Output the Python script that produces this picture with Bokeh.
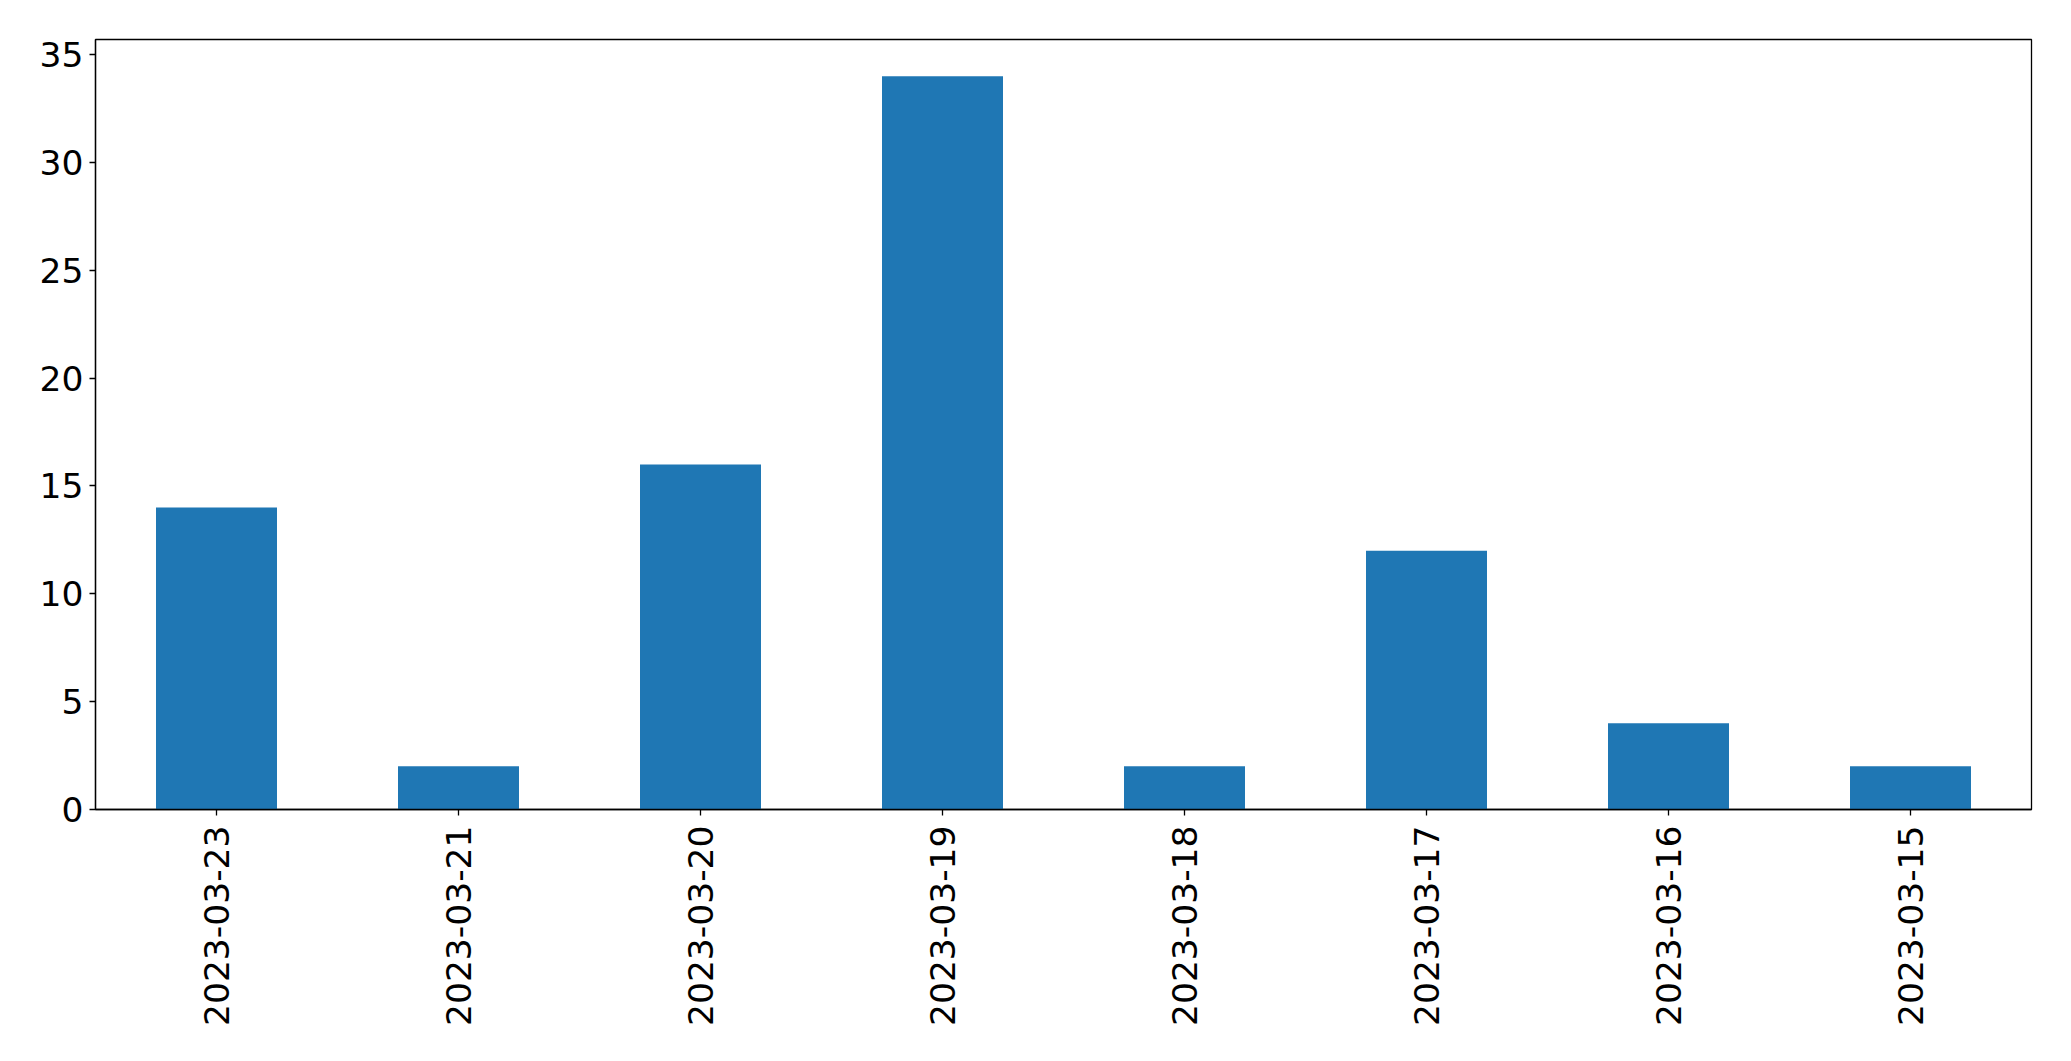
import math
from bokeh.plotting import figure
from bokeh.models import ColumnDataSource, FactorRange, Range1d, FixedTicker
from bokeh.embed import file_html
from bokeh.resources import INLINE

dates = ["2023-03-23", "2023-03-21", "2023-03-20", "2023-03-19",
         "2023-03-18", "2023-03-17", "2023-03-16", "2023-03-15"]
counts = [14, 2, 16, 34, 2, 12, 4, 2]
y_ticks = [0, 5, 10, 15, 20, 25, 30, 35]

source = ColumnDataSource(data=dict(date=dates, count=counts))

p = figure(
    width=2055, height=1045,
    x_range=FactorRange(factors=dates, range_padding=0),
    y_range=Range1d(0, max(counts) * 1.05),
    output_backend="svg", toolbar_location=None,
    min_border_left=95, min_border_right=24, min_border_top=39, min_border_bottom=236,
)

p.vbar(x="date", top="count", width=0.5, source=source,
       fill_color="#1f77b4", line_color=None)

p.xgrid.visible = False
p.ygrid.visible = False
p.outline_line_color = "black"
p.outline_line_width = 1.3
p.outline_line_alpha = 1.0
p.background_fill_color = "white"
p.border_fill_color = "white"

font = "DejaVu Sans"
for ax in (p.xaxis[0], p.yaxis[0]):
    ax.axis_line_color = "black"
    ax.axis_line_width = 1.3
    ax.major_tick_line_color = "black"
    ax.major_tick_line_width = 1.3
    ax.major_tick_out = 6
    ax.major_tick_in = 0
    ax.minor_tick_line_color = None
    ax.major_label_text_font = font
    ax.major_label_text_font_size = "34.5px"
    ax.major_label_text_color = "black"

p.yaxis[0].ticker = FixedTicker(ticks=y_ticks)
p.yaxis[0].major_label_standoff = 6
p.xaxis[0].major_label_orientation = math.pi / 2
p.xaxis[0].major_label_standoff = 10

open("out.html", "w").write(file_html(p, INLINE))
